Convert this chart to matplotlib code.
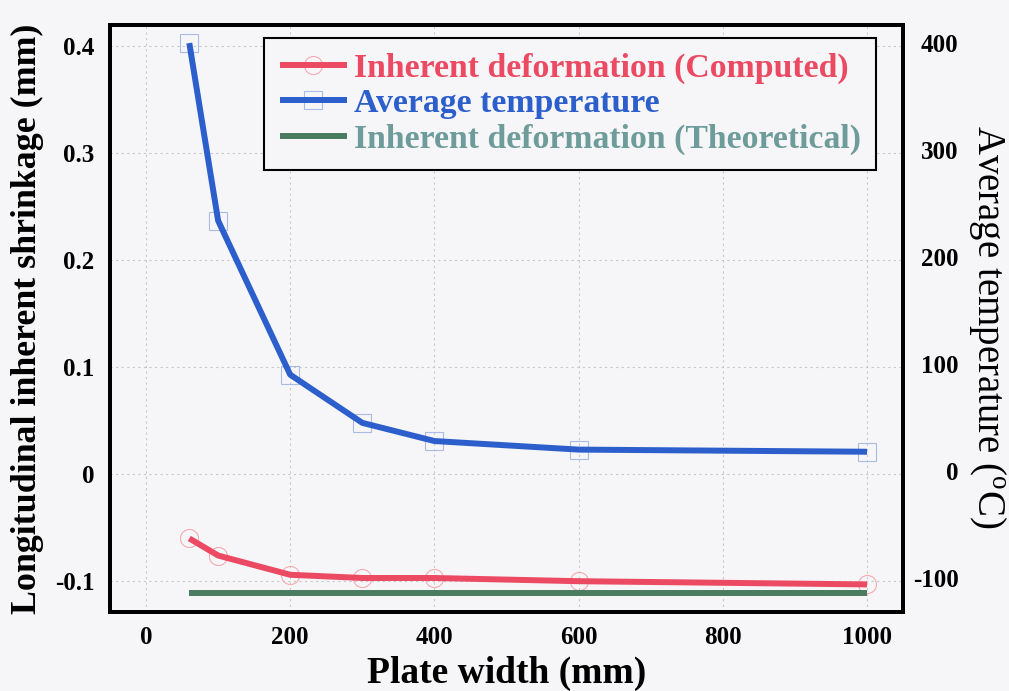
import matplotlib
matplotlib.use("Agg")
import matplotlib.pyplot as plt
from matplotlib.legend_handler import HandlerTuple

# Plate widths (mm)
width = [60, 100, 200, 300, 400, 600, 1000]
# Computed longitudinal inherent shrinkage (mm)
shrink_computed = [-0.060, -0.076, -0.094, -0.097, -0.097, -0.100, -0.103]
# Average temperature (deg C)
avg_temp = [400, 234, 90, 45, 28, 20, 18]
# Theoretical inherent shrinkage (mm), constant over width
theory_x = [60, 1000]
theory_y = [-0.111, -0.111]

x_ticks = [0, 200, 400, 600, 800, 1000]
left_ticks = [-0.1, 0, 0.1, 0.2, 0.3, 0.4]
left_tick_labels = ["-0.1", "0", "0.1", "0.2", "0.3", "0.4"]
right_ticks = [-100, 0, 100, 200, 300, 400]

RED = "#ec4a62"
BLUE = "#2c5fcc"
GREEN_LINE = "#4b7c60"
GREEN_TEXT = "#6e9c9a"
BG = "#f6f6f8"

plt.rcParams["font.family"] = ["Liberation Serif", "DejaVu Serif"]

fig = plt.figure(figsize=(10.09, 6.91), dpi=100, facecolor=BG)
ax = fig.add_axes([0.109, 0.114, 0.786, 0.850])
ax.set_facecolor(BG)
ax2 = ax.twinx()

# left axis: inherent shrinkage
m_red, = ax.plot(width, shrink_computed, ls="none", marker="o", ms=13,
                 mfc="none", mec="#f6aab2", mew=0.8, zorder=2)
l_red, = ax.plot(width, shrink_computed, color=RED, lw=4.3, zorder=3,
                 solid_capstyle="butt")
l_green, = ax.plot(theory_x, theory_y, color=GREEN_LINE, lw=4.3, zorder=3,
                   solid_capstyle="butt")

# right axis: temperature
m_blue, = ax2.plot(width, avg_temp, ls="none", marker="s", ms=13,
                   mfc="none", mec="#aabbe4", mew=0.8, zorder=2)
l_blue, = ax2.plot(width, avg_temp, color=BLUE, lw=4.3, zorder=3,
                   solid_capstyle="butt")

ax.set_xlim(-50, 1050)
ax.set_ylim(-0.129, 0.42)
ax2.set_ylim(-132, 417)

ax.set_xticks(x_ticks)
ax.set_xticklabels([str(t) for t in x_ticks])
ax.set_yticks(left_ticks)
ax.set_yticklabels(left_tick_labels)
ax2.set_yticks(right_ticks)
ax2.set_yticklabels([str(t) for t in right_ticks])

ax.grid(True, color="#c8c8c8", ls=(0, (2, 3)), lw=0.8)
ax.set_axisbelow(True)

ax.tick_params(axis="both", length=0, labelsize=18)
ax.tick_params(axis="y", pad=11)
ax.tick_params(axis="x", pad=10)
ax2.tick_params(axis="y", length=0, labelsize=18, pad=40)
for lab in ax.get_xticklabels() + ax.get_yticklabels():
    lab.set_fontweight("bold")
for lab in ax2.get_yticklabels():
    lab.set_fontweight("bold")
    lab.set_horizontalalignment("right")

for a in (ax, ax2):
    for sp in a.spines.values():
        sp.set_linewidth(2.8)
        sp.set_color("black")

ax.set_xlabel("Plate width (mm)", fontsize=27, fontweight="bold", labelpad=5)
ax.set_ylabel("Longitudinal inherent shrinkage (mm)", fontsize=25.8,
              fontweight="bold")
ax.yaxis.set_label_coords(-0.083, 0.5)
ax2.set_ylabel("Average temperature ($\\mathregular{^o}$C)", fontsize=28,
               rotation=270, ha="center", va="center")
ax2.yaxis.set_label_coords(1.107, 0.485)

leg = ax2.legend([(m_red, l_red), (m_blue, l_blue), l_green],
                 ["Inherent deformation (Computed)", "Average temperature",
                  "Inherent deformation (Theoretical)"],
                 handler_map={tuple: HandlerTuple(ndivide=1)},
                 loc="upper right", bbox_to_anchor=(0.966, 0.978),
                 prop={"size": 24.3, "weight": "bold"}, frameon=True,
                 fancybox=False, edgecolor="black", facecolor=BG,
                 framealpha=1, handlelength=2.0, handletextpad=0.2,
                 labelspacing=0.12, borderpad=0.45, borderaxespad=0)
leg.get_frame().set_linewidth(1.5)
for txt, c in zip(leg.get_texts(), [RED, BLUE, GREEN_TEXT]):
    txt.set_color(c)

fig.savefig("out.png", dpi=100, facecolor=BG)
